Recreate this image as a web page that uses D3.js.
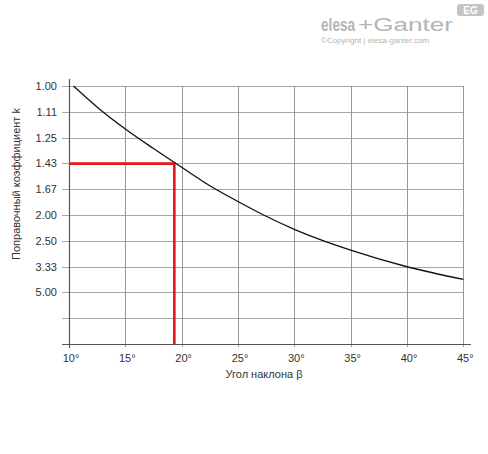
<!DOCTYPE html>
<html><head><meta charset="utf-8">
<script src="https://cdn.jsdelivr.net/npm/d3@7"></script>
<style>html,body{margin:0;padding:0;background:#fff}</style>
</head><body>
<script>
// Data
const angleTicks = [10, 15, 20, 25, 30, 35, 40, 45];
const yTickValues = [1.0, 0.9, 0.8, 0.7, 0.6, 0.5, 0.4, 0.3, 0.2, 0.1];
const yTickLabels = ["1.00", "1.11", "1.25", "1.43", "1.67", "2.00", "2.50", "3.33", "5.00", ""];
const curveAngles = [10.4, 12.75, 15, 17.5, 20, 22.5, 25, 27.5, 30, 35, 40, 45];
const curveK =      [1.00, 1.10, 1.20, 1.32, 1.46, 1.63, 1.81, 2.02, 2.25, 2.75, 3.34, 3.99];
const markAngle = 19.35;
const markK = 1.43;

const W = 488, H = 454;
const svg = d3.select("body").append("svg").attr("width", W).attr("height", H);

const x = d3.scaleLinear().domain([10, 45]).range([69, 463.3]);
const y = d3.scaleLinear().domain([0, 1]).range([344, 86]);
const font = "Liberation Sans, Arial, Helvetica, sans-serif";

// horizontal gridlines
svg.append("g").selectAll("line").data(yTickValues).join("line")
  .attr("x1", 62).attr("x2", x(45))
  .attr("y1", d => Math.round(y(d)) + 0.5).attr("y2", d => Math.round(y(d)) + 0.5)
  .attr("stroke", "#a8a8a8").attr("stroke-width", 1);

// vertical gridlines
svg.append("g").selectAll("line").data(angleTicks.slice(1)).join("line")
  .attr("x1", d => Math.round(x(d)) + 0.5).attr("x2", d => Math.round(x(d)) + 0.5)
  .attr("y1", y(1)).attr("y2", 347)
  .attr("stroke", "#999").attr("stroke-width", 1);

// axes
svg.append("line").attr("x1", Math.round(x(10)) + 0.5).attr("x2", Math.round(x(10)) + 0.5)
  .attr("y1", 79).attr("y2", 348).attr("stroke", "#555").attr("stroke-width", 1.2);
svg.append("line").attr("x1", 62).attr("x2", 471)
  .attr("y1", Math.round(y(0)) + 0.5).attr("y2", Math.round(y(0)) + 0.5)
  .attr("stroke", "#555").attr("stroke-width", 1.2);

// y tick labels
svg.append("g").selectAll("text").data(yTickValues).join("text")
  .attr("x", 57).attr("y", d => y(d) + 4)
  .attr("text-anchor", "end").attr("font-family", font).attr("font-size", 11)
  .attr("fill", "#333").text((d, i) => yTickLabels[i]);

// x tick labels
svg.append("g").selectAll("text").data(angleTicks).join("text")
  .attr("x", d => x(d) + 2).attr("y", 362)
  .attr("text-anchor", "middle").attr("font-family", font).attr("font-size", 11)
  .attr("fill", "#333").text(d => d + "°");

// axis titles
svg.append("text").attr("x", 264).attr("y", 378).attr("text-anchor", "middle")
  .attr("font-family", font).attr("font-size", 11).attr("fill", "#333")
  .text("Угол наклона β");
svg.append("text").attr("transform", "translate(20,184) rotate(-90)")
  .attr("text-anchor", "middle").attr("font-family", font).attr("font-size", 11).attr("fill", "#333")
  .text("Поправочный коэффициент k");

// red marker lines
svg.append("path")
  .attr("d", `M${x(10)},${y(1 / markK)}H${x(markAngle)}V${y(0)}`)
  .attr("fill", "none").attr("stroke", "#e8141c").attr("stroke-width", 2.6);

// curve
const pts = curveAngles.map((a, i) => [a, curveK[i]]);
svg.append("path").datum(pts)
  .attr("d", d3.line().x(d => x(d[0])).y(d => y(1 / d[1])).curve(d3.curveMonotoneX))
  .attr("fill", "none").attr("stroke", "#111").attr("stroke-width", 1.3);

// logo
const logo = svg.append("g");
logo.append("text").attr("transform", "translate(321,31) scale(0.76,1)").attr("font-family", font)
  .attr("fill", "#b4b4b4").attr("font-size", 18).attr("font-weight", "bold").text("elesa");
logo.append("text").attr("transform", "translate(358,31) scale(1.45,1)").attr("font-family", font)
  .attr("fill", "#b4b4b4").attr("font-size", 18).text("+Ganter");
logo.append("text").attr("x", 321).attr("y", 42.5).attr("font-family", font)
  .attr("font-size", 8).attr("fill", "#b4b4b4").text("©Copyright | elesa-ganter.com");
logo.append("rect").attr("x", 457).attr("y", 4).attr("width", 27).attr("height", 12)
  .attr("rx", 3).attr("fill", "#c4c4c4");
logo.append("text").attr("x", 470.5).attr("y", 14).attr("text-anchor", "middle")
  .attr("font-family", font).attr("font-size", 10).attr("font-weight", "bold")
  .attr("fill", "#fff").text("EG");
</script>
</body></html>
